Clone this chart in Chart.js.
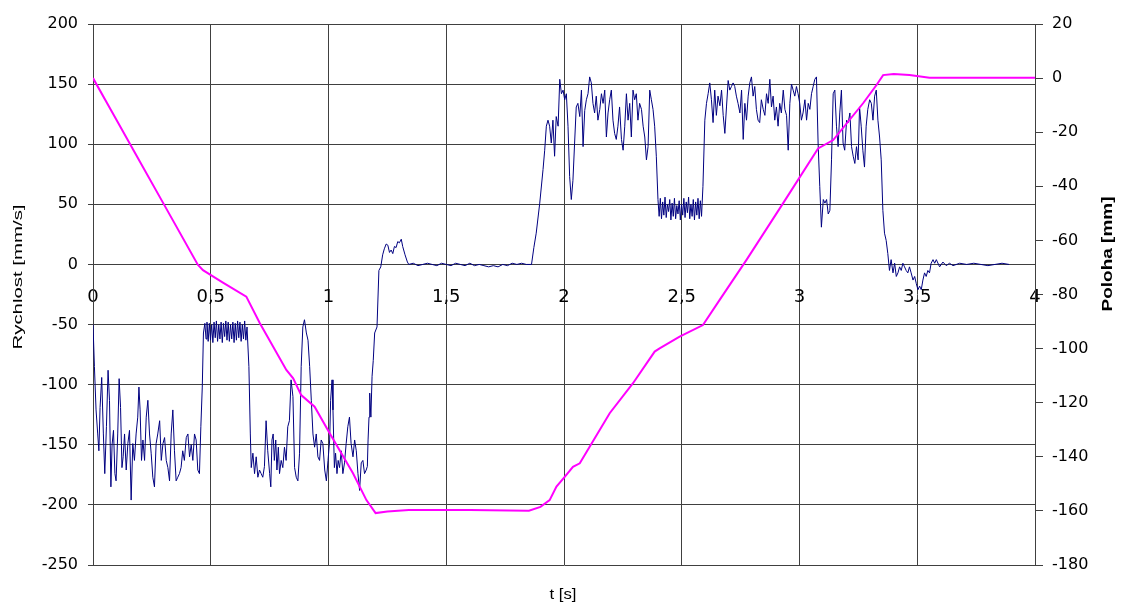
<!DOCTYPE html>
<html>
<head>
<meta charset="utf-8">
<title>Rychlost a poloha</title>
<script src="https://cdn.jsdelivr.net/npm/chart.js@4.4.0/dist/chart.umd.min.js"></script>
<style>
  html, body { margin: 0; padding: 0; background: #fff; }
  #wrap { width: 1127px; height: 604px; }
</style>
</head>
<body>
<div id="wrap"><canvas id="myChart" width="1127" height="604"></canvas></div>
<script>
// Rychlost [mm/s], segment by segment
var tSpeedA = [0, 0.006, 0.013, 0.02, 0.025, 0.03, 0.037, 0.044, 0.05, 0.057,
  0.064, 0.07, 0.076, 0.081, 0.087, 0.093, 0.098, 0.105, 0.111, 0.117,
  0.123, 0.128, 0.134, 0.141, 0.148, 0.155, 0.162, 0.169, 0.176, 0.183,
  0.19, 0.195, 0.2, 0.206, 0.212, 0.219, 0.226, 0.233, 0.24, 0.247,
  0.254, 0.261, 0.268, 0.275, 0.283, 0.29, 0.297, 0.304, 0.311, 0.318,
  0.325, 0.332, 0.339, 0.346, 0.353, 0.36, 0.367, 0.374, 0.381, 0.388,
  0.396, 0.403, 0.41, 0.417, 0.424, 0.431, 0.438, 0.445, 0.452, 0.458,
  0.464, 0.469, 0.475];
var speedA = [-50, -85, -121, -141, -155, -119, -94, -141, -174, -135,
  -88, -113, -185, -150, -138, -174, -180, -141, -95, -119,
  -169, -160, -141, -171, -149, -138, -196, -149, -163, -141,
  -127, -102, -121, -163, -146, -163, -127, -113, -141, -157,
  -177, -185, -149, -141, -130, -163, -149, -144, -163, -169,
  -180, -141, -121, -155, -180, -177, -174, -169, -155, -163,
  -144, -141, -160, -150, -163, -141, -146, -171, -174, -135,
  -102, -57, -49];

var tSpeedB = [0.48, 0.484, 0.489, 0.494, 0.499, 0.504, 0.509, 0.514, 0.519, 0.524,
  0.529, 0.534, 0.539, 0.544, 0.549, 0.554, 0.559, 0.564, 0.569, 0.574,
  0.579, 0.584, 0.589, 0.594, 0.599, 0.604, 0.609, 0.614, 0.619, 0.624,
  0.629, 0.634, 0.639, 0.644, 0.649, 0.654];
var speedB = [-62, -48, -64, -49, -63, -50, -65, -48, -61, -47,
  -64, -50, -62, -48, -65, -49, -60, -47, -63, -48,
  -64, -50, -62, -48, -65, -49, -63, -47, -61, -48,
  -64, -50, -62, -47, -63, -52];

var tSpeedC = [0.662, 0.668, 0.672, 0.679, 0.686, 0.693, 0.7, 0.707, 0.714, 0.721,
  0.728, 0.735, 0.742, 0.75, 0.755, 0.76, 0.765, 0.77, 0.776, 0.781,
  0.787, 0.792, 0.799, 0.806, 0.813, 0.82, 0.827, 0.834, 0.841, 0.849,
  0.856, 0.863, 0.87, 0.877, 0.884, 0.891, 0.898, 0.906, 0.913, 0.92,
  0.927, 0.934, 0.941, 0.948, 0.955, 0.962, 0.969, 0.976, 0.984, 0.991,
  0.998, 1.005, 1.009, 1.015, 1.019, 1.025, 1.03, 1.036, 1.041, 1.047,
  1.054, 1.061, 1.068, 1.075, 1.082, 1.089, 1.096, 1.104, 1.111, 1.118,
  1.125, 1.132, 1.139, 1.146, 1.153, 1.16, 1.165, 1.168, 1.172, 1.175,
  1.18, 1.185, 1.19, 1.196, 1.206, 1.214, 1.222];
var speedC = [-85, -141, -169, -157, -174, -160, -177, -171, -174, -177,
  -168, -130, -155, -174, -185, -146, -141, -163, -146, -171,
  -152, -174, -163, -169, -152, -163, -135, -130, -96, -110,
  -169, -177, -180, -157, -85, -52, -46, -57, -63, -85,
  -113, -141, -152, -141, -160, -163, -146, -149, -171, -180,
  -163, -146, -113, -96, -121, -169, -157, -174, -163, -169,
  -155, -174, -165, -149, -135, -127, -149, -160, -146, -155,
  -174, -188, -165, -163, -174, -171, -168, -146, -127, -107,
  -127, -93, -80, -57, -52, -5, -2];

var tSpeedD = [1.23, 1.237, 1.245, 1.252, 1.259, 1.266, 1.273, 1.28, 1.287, 1.294,
  1.301, 1.309, 1.315, 1.325, 1.335, 1.341, 1.36, 1.38, 1.4, 1.42,
  1.44, 1.46, 1.48, 1.5, 1.52, 1.54, 1.56, 1.58, 1.6, 1.62,
  1.64, 1.66, 1.68, 1.7, 1.72, 1.74, 1.76, 1.78, 1.8, 1.82,
  1.84, 1.862, 1.872, 1.882, 1.897, 1.911, 1.918];
var speedD = [8, 13, 17, 16, 10, 12, 9, 15, 14, 19,
  18, 21, 15, 8, 2, 0, 1, -1, 0, 1,
  0, -1, 1, 0, -1, 1, 0, -1, 1, -1,
  0, -1, -2, -1, -2, 0, -1, 1, 0, 1,
  0, 0, 14, 26, 51, 79, 95];

var tSpeedE = [1.925, 1.932, 1.939, 1.946, 1.953, 1.96, 1.967, 1.975, 1.982, 1.989,
  1.996, 2.003, 2.01, 2.017, 2.024, 2.031, 2.038, 2.045, 2.052, 2.059,
  2.067, 2.074, 2.081, 2.088, 2.095, 2.102, 2.109, 2.116, 2.123, 2.13,
  2.137, 2.144, 2.152, 2.159, 2.166, 2.173, 2.18, 2.187, 2.194, 2.201,
  2.208, 2.215, 2.222, 2.229, 2.236, 2.244, 2.251, 2.258, 2.265, 2.272,
  2.279, 2.286, 2.293, 2.3, 2.307, 2.314, 2.321, 2.329, 2.336, 2.343,
  2.35, 2.357, 2.364, 2.371, 2.378, 2.385, 2.392, 2.399];
var speedE = [115, 120, 115, 101, 120, 90, 123, 115, 154, 142,
  145, 137, 142, 115, 73, 54, 70, 101, 131, 134,
  123, 145, 98, 128, 137, 142, 156, 151, 134, 126,
  140, 120, 129, 142, 134, 145, 106, 126, 137, 145,
  120, 109, 104, 115, 131, 104, 95, 115, 142, 120,
  134, 106, 145, 137, 142, 120, 134, 129, 115, 106,
  87, 98, 145, 137, 129, 115, 90, 54];

var tSpeedF = [2.404, 2.409, 2.414, 2.419, 2.424, 2.429, 2.434, 2.439, 2.444, 2.449,
  2.454, 2.459, 2.464, 2.469, 2.474, 2.479, 2.484, 2.489, 2.494, 2.499,
  2.504, 2.509, 2.514, 2.519, 2.524, 2.529, 2.534, 2.539, 2.544, 2.549,
  2.554, 2.559, 2.564, 2.569, 2.574, 2.579, 2.584, 2.59];
var speedF = [40, 55, 38, 52, 41, 56, 39, 50, 44, 54,
  37, 51, 40, 55, 38, 49, 42, 53, 37, 50,
  41, 55, 39, 52, 43, 56, 38, 50, 40, 54,
  37, 52, 41, 55, 38, 53, 40, 65];

var tSpeedG = [2.598, 2.605, 2.612, 2.619, 2.626, 2.633, 2.64, 2.647, 2.654, 2.662,
  2.669, 2.676, 2.683, 2.69, 2.697, 2.704, 2.711, 2.718, 2.725, 2.732,
  2.739, 2.747, 2.754, 2.761, 2.768, 2.775, 2.782, 2.789, 2.796, 2.803,
  2.81, 2.817, 2.824, 2.831, 2.838, 2.846, 2.853, 2.86, 2.867, 2.874,
  2.881, 2.888, 2.895, 2.902, 2.909, 2.916, 2.923, 2.931, 2.938, 2.945,
  2.952, 2.959, 2.966, 2.973, 2.98, 2.987, 2.994, 3.001, 3.008, 3.015,
  3.023, 3.03, 3.037, 3.044, 3.051, 3.058, 3.065, 3.072, 3.079, 3.086,
  3.093, 3.101, 3.108, 3.115, 3.122, 3.129, 3.136, 3.143, 3.15, 3.157,
  3.164, 3.171, 3.178, 3.185, 3.192, 3.2, 3.207, 3.214, 3.221, 3.228,
  3.235, 3.242, 3.249, 3.255];
var speedG = [120, 134, 142, 151, 137, 118, 145, 124, 140, 132,
  145, 124, 109, 131, 153, 145, 148, 151, 148, 140,
  134, 126, 145, 104, 134, 120, 140, 151, 156, 140,
  148, 129, 120, 118, 137, 129, 124, 142, 134, 154,
  131, 140, 120, 131, 115, 134, 126, 145, 129, 124,
  95, 134, 150, 145, 140, 148, 142, 134, 120, 126,
  137, 120, 134, 129, 142, 148, 154, 156, 101, 65,
  31, 54, 51, 54, 42, 45, 87, 142, 145, 115,
  98, 126, 145, 101, 95, 120, 118, 126, 98, 90,
  84, 98, 87, 131];

var tSpeedH = [3.262, 3.269, 3.276, 3.283, 3.29, 3.298, 3.305, 3.312, 3.319, 3.326,
  3.333, 3.34, 3.347, 3.354, 3.361, 3.368, 3.375, 3.382, 3.389, 3.397,
  3.404, 3.411, 3.418, 3.425, 3.432, 3.439, 3.446, 3.453, 3.46, 3.467,
  3.474, 3.482, 3.489, 3.496, 3.503, 3.51, 3.517, 3.524, 3.531, 3.538,
  3.545, 3.552, 3.559, 3.567, 3.574, 3.581, 3.595, 3.609, 3.623, 3.637,
  3.652, 3.68, 3.71, 3.74, 3.77, 3.8, 3.83, 3.86, 3.89];
var speedH = [115, 95, 81, 115, 129, 137, 134, 120, 140, 145,
  120, 106, 87, 45, 26, 20, 9, -5, 4, -7,
  1, -10, -7, -2, -5, 1, -2, -5, -7, -2,
  -7, -13, -10, -16, -21, -18, -21, -13, -7, -10,
  -5, -7, 1, 4, 1, 4, -2, 2, -1, 1,
  -1, 1, 0, 1, 0, -1, 0, 1, 0];

// Poloha [mm]
var tPos = [0, 0.1, 0.2, 0.3, 0.445, 0.467, 0.55, 0.651, 0.708, 0.821,
  0.85, 0.884, 0.941, 1.005, 1.104, 1.161, 1.2, 1.25, 1.341, 1.6,
  1.851, 1.9, 1.939, 1.968, 2.003, 2.038, 2.067, 2.109, 2.194, 2.293,
  2.385, 2.406, 2.491, 2.59, 2.661, 2.775, 2.93, 3.079, 3.143, 3.27,
  3.327, 3.355, 3.4, 3.467, 3.552, 4];
var pos = [0, -15.5, -31, -46.5, -69, -71, -75.5, -80.8, -90.5, -107.9,
  -111, -117.2, -121.5, -131.3, -146.1, -156, -160.8, -160.2, -159.7, -159.7,
  -159.9, -158.5, -156, -151, -147.4, -143.7, -142.4, -136.3, -123.9, -112.8,
  -101.1, -99.9, -95.6, -91.3, -82, -67.2, -46.3, -26, -22.9, -9.3,
  -2.55, 1.1, 1.5, 1.15, 0.15, 0.15];

// Fonction pour assembler les couples (x, y) d'un segment
function toPoints(times, values) {
    var points = [];
    for (var i = 0; i < times.length; i++) {
        points.push({ x: times[i], y: values[i] });
    }
    return points;
}

var speedPoints = [].concat(
    toPoints(tSpeedA, speedA), toPoints(tSpeedB, speedB), toPoints(tSpeedC, speedC),
    toPoints(tSpeedD, speedD), toPoints(tSpeedE, speedE), toPoints(tSpeedF, speedF),
    toPoints(tSpeedG, speedG), toPoints(tSpeedH, speedH)
);
var posPoints = toPoints(tPos, pos);

// Draw one axis title, stretched along the text to the wanted length
function drawTitle(ctx, text, x, y, angle, font, length) {
    ctx.save();
    ctx.font = font;
    ctx.fillStyle = '#000';
    ctx.textAlign = 'center';
    ctx.textBaseline = 'middle';
    ctx.translate(x, y);
    ctx.rotate(angle);
    var w = ctx.measureText(text).width;
    ctx.scale(length / w, 1);
    ctx.fillText(text, 0, 0);
    ctx.restore();
}

var axisTitles = {
    id: 'axisTitles',
    afterDraw: function(chart) {
        var ctx = chart.ctx;
        drawTitle(ctx, 'Rychlost [mm/s]', 18, 277, -Math.PI / 2, '13px "Liberation Sans"', 145);
        drawTitle(ctx, 'Poloha [mm]', 1108, 254, -Math.PI / 2, 'bold 15px "Liberation Sans"', 115);
        drawTitle(ctx, 't [s]', 563, 595, 0, '15px "Liberation Sans"', 27);
    }
};

var gridColor = '#404040';

var ctx = document.getElementById('myChart').getContext('2d');
var myChart = new Chart(ctx, {
    type: 'line',
    data: {
        datasets: [{
            label: 'Poloha',
            data: posPoints,
            yAxisID: 'y1',
            borderColor: '#ff00ff',
            borderWidth: 2,
            pointRadius: 0,
            tension: 0
        }, {
            label: 'Rychlost',
            data: speedPoints,
            yAxisID: 'y',
            borderColor: '#000080',
            borderWidth: 1,
            pointRadius: 0,
            tension: 0
        }]
    },
    options: {
        responsive: false,
        animation: false,
        layout: { padding: { top: 24, bottom: 39, left: 0, right: 0 } },
        plugins: {
            legend: { display: false },
            tooltip: { enabled: false }
        },
        scales: {
            x: {
                type: 'linear',
                position: { y: 0 },
                min: 0,
                max: 4,
                ticks: {
                    stepSize: 0.5,
                    autoSkip: false,
                    maxRotation: 0,
                    padding: 22,
                    color: '#000',
                    font: { family: 'DejaVu Sans', size: 18 },
                    callback: function(value) { return String(value).replace('.', ','); }
                },
                grid: { color: gridColor, lineWidth: 1, drawTicks: false },
                border: { color: gridColor }
            },
            y: {
                position: 'left',
                min: -250,
                max: 200,
                ticks: {
                    stepSize: 50,
                    padding: 10,
                    color: '#000',
                    font: { family: 'DejaVu Sans', size: 16 }
                },
                grid: { color: gridColor, lineWidth: 1, tickLength: 5 },
                border: { color: gridColor },
                afterFit: function(scale) { scale.width = 93; }
            },
            y1: {
                position: 'right',
                min: -180,
                max: 20,
                ticks: {
                    stepSize: 20,
                    padding: 9,
                    color: '#000',
                    font: { family: 'DejaVu Sans', size: 16 }
                },
                grid: { drawOnChartArea: false, color: gridColor, tickLength: 8 },
                border: { color: gridColor },
                afterFit: function(scale) { scale.width = 92; }
            }
        }
    },
    plugins: [axisTitles]
});
</script>
</body>
</html>
